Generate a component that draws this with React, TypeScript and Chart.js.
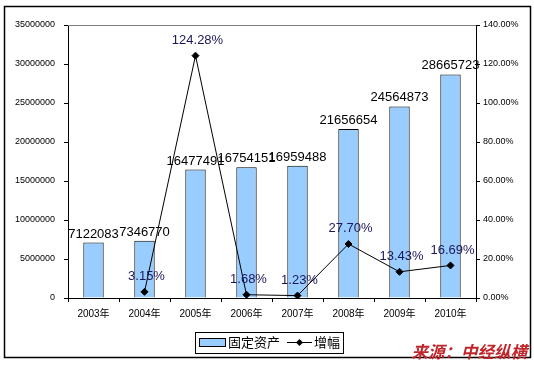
import React, { useEffect, useRef } from "react";
import { Chart, registerables } from "chart.js";

Chart.register(...registerables);

const categories = ["2003年", "2004年", "2005年", "2006年", "2007年", "2008年", "2009年", "2010年"];
const fixedAssets = [7122083, 7346770, 16477491, 16754151, 16959488, 21656654, 24564873, 28665723];
const growthPct: (number | null)[] = [null, 3.15, 124.28, 1.68, 1.23, 27.7, 13.43, 16.69];
const barLegend = "固定资产";
const lineLegend = "增幅";
const sourceText = "来源：中经纵横";

const FONT = '"Liberation Sans", Arial, "Noto Sans CJK SC", sans-serif';

const overlayPlugin = {
  id: "overlay",
  beforeDraw(chart: any) {
    const ctx = chart.ctx;
    ctx.save();
    ctx.fillStyle = "#fff";
    ctx.fillRect(0, 0, chart.width, chart.height);
    ctx.restore();
  },
  beforeDatasetsDraw(chart: any) {
    const { ctx, chartArea } = chart;
    ctx.save();
    ctx.strokeStyle = "#808080";
    ctx.lineWidth = 1;
    ctx.beginPath();
    ctx.moveTo(chartArea.left, chartArea.top + 0.5);
    ctx.lineTo(chartArea.right, chartArea.top + 0.5);
    ctx.stroke();
    ctx.restore();
  },
  afterDatasetsDraw(chart: any) {
    const ctx = chart.ctx;
    ctx.save();
    // bar labels
    const barMeta = chart.getDatasetMeta(0);
    ctx.font = `13px ${FONT}`;
    ctx.textAlign = "center";
    ctx.textBaseline = "bottom";
    ctx.fillStyle = "#000";
    barMeta.data.forEach((el: any, i: number) => {
      ctx.fillText(String(fixedAssets[i]), el.x, el.y - 2);
    });
    // line labels
    const lineMeta = chart.getDatasetMeta(1);
    ctx.fillStyle = "#1C1858";
    lineMeta.data.forEach((el: any, i: number) => {
      const v = growthPct[i];
      if (v === null || el.skip) return;
      ctx.fillText(v.toFixed(2) + "%", el.x + 2, el.y - 9);
    });

    // outer border
    ctx.strokeStyle = "#000";
    ctx.lineWidth = 1.5;
    ctx.strokeRect(4.5, 6.5, 526, 351);

    // legend
    ctx.lineWidth = 1;
    ctx.fillStyle = "#fff";
    ctx.fillRect(195.5, 332.5, 148, 21);
    ctx.strokeRect(195.5, 332.5, 148, 21);
    ctx.fillStyle = "#99CCFF";
    ctx.fillRect(199.5, 338.5, 26, 8);
    ctx.strokeRect(199.5, 338.5, 26, 8);
    ctx.fillStyle = "#000";
    ctx.font = `13px ${FONT}`;
    ctx.textAlign = "left";
    ctx.textBaseline = "middle";
    ctx.fillText(barLegend, 228, 343);
    ctx.beginPath();
    ctx.moveTo(287, 342.5);
    ctx.lineTo(312, 342.5);
    ctx.stroke();
    ctx.beginPath();
    ctx.moveTo(299.5, 339);
    ctx.lineTo(303, 342.5);
    ctx.lineTo(299.5, 346);
    ctx.lineTo(296, 342.5);
    ctx.closePath();
    ctx.fill();
    ctx.fillText(lineLegend, 314, 343);

    // source text
    ctx.fillStyle = "#C0272D";
    ctx.font = `italic bold 16.5px "Noto Sans CJK SC", sans-serif`;
    ctx.textAlign = "right";
    ctx.fillText(sourceText, 527, 352);
    ctx.restore();
  },
};

export default function App() {
  const ref = useRef<HTMLCanvasElement>(null);
  useEffect(() => {
    if (!ref.current) return;
    const chart = new Chart(ref.current, {
      type: "bar",
      data: {
        labels: categories,
        datasets: [
          {
            type: "bar",
            label: barLegend,
            data: fixedAssets,
            backgroundColor: "#99CCFF",
            borderColor: "#000",
            borderWidth: 1,
            categoryPercentage: 1,
            barPercentage: 0.4,
            yAxisID: "y",
            order: 1,
          },
          {
            type: "line",
            label: lineLegend,
            data: growthPct,
            borderColor: "#000",
            borderWidth: 1,
            pointStyle: "rectRot",
            pointRadius: 3.5,
            pointBackgroundColor: "#000",
            pointBorderColor: "#000",
            yAxisID: "y1",
            order: 0,
          } as any,
        ],
      },
      options: {
        responsive: false,
        animation: false,
        layout: { padding: { top: 25, left: 0, right: 0, bottom: 0 } },
        plugins: { legend: { display: false }, tooltip: { enabled: false } },
        scales: {
          x: {
            offset: true,
            grid: { offset: true, drawOnChartArea: false, color: "#000", tickLength: 4 },
            border: { color: "#000" },
            ticks: { font: { size: 10, family: FONT }, color: "#000", padding: 6, maxRotation: 0 },
            afterFit: (s: any) => { s.height = 67; },
          },
          y: {
            position: "left",
            min: 0,
            max: 35000000,
            ticks: {
              stepSize: 5000000,
              font: { size: 9, family: FONT },
              color: "#000",
              padding: 9,
              callback: (v: any) => String(v),
            },
            grid: { drawOnChartArea: false, color: "#000", tickLength: 4 },
            border: { color: "#000" },
            afterFit: (s: any) => { s.width = 68; },
          },
          y1: {
            position: "right",
            min: 0,
            max: 140,
            ticks: {
              stepSize: 20,
              font: { size: 9, family: FONT },
              color: "#000",
              padding: 3,
              callback: (v: any) => Number(v).toFixed(2) + "%",
            },
            grid: { drawOnChartArea: false, color: "#000", tickLength: 4 },
            border: { color: "#000" },
            afterFit: (s: any) => { s.width = 58; },
          },
        },
      },
      plugins: [overlayPlugin],
    });
    return () => chart.destroy();
  }, []);
  return (
    <div style={{ position: "absolute", left: 0, top: 0, width: 534, height: 365 }}>
      <canvas ref={ref} width={534} height={365} style={{ width: 534, height: 365 }} />
    </div>
  );
}
